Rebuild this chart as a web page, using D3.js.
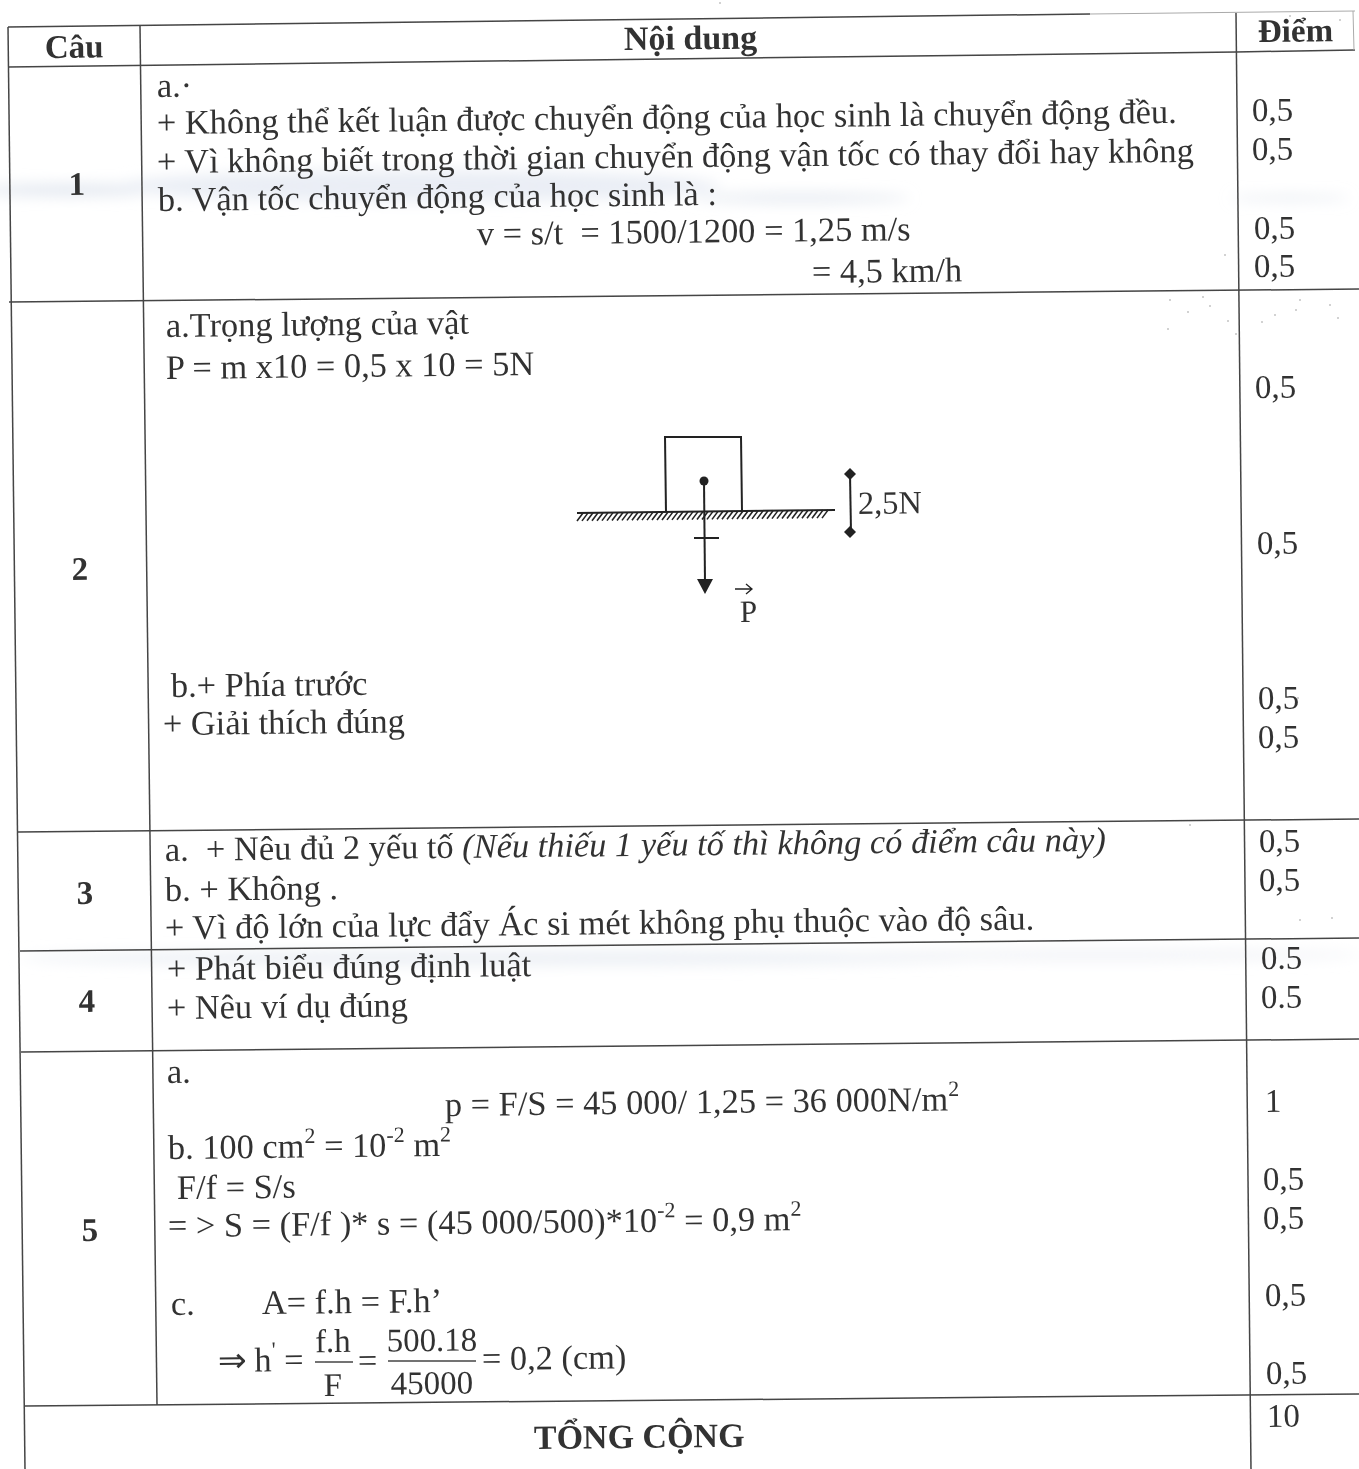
<!DOCTYPE html>
<html lang="vi">
<head>
  <meta charset="UTF-8" />
  <title>Đáp án</title>
  <style>
    html, body { margin: 0; padding: 0; background: #fff; }
    svg { display: block; }
    text { font-family: "Liberation Serif", serif; fill: #333; white-space: pre; }
  </style>
</head>
<body>
  <div id="sheet"></div>
  <script src="https://cdnjs.cloudflare.com/ajax/libs/d3/7.8.4/d3.min.js"></script>
  <script>
    const width = 1359, height = 1469, tilt = -0.62;

    // Text of the table. ^{..} is a superscript, _{..} is italic
    const headers = ["Câu", "Nội dung", "Điểm"];
    const questions = ["1", "2", "3", "4", "5"];
    const contentLines = [
      "a.·",
      "+ Không thể kết luận được chuyển động của học sinh là chuyển động đều.",
      "+ Vì không biết trong thời gian chuyển động vận tốc có thay đổi hay không",
      "b. Vận tốc chuyển động của học sinh là :",
      "v = s/t  = 1500/1200 = 1,25 m/s",
      "= 4,5 km/h",
      "a.Trọng lượng của vật",
      "P = m x10 = 0,5 x 10 = 5N",
      "b.+ Phía trước",
      "+ Giải thích đúng",
      "a.  + Nêu đủ 2 yếu tố _{(Nếu thiếu 1 yếu tố thì không có điểm câu này)}",
      "b. + Không .",
      "+ Vì độ lớn của lực đẩy Ác si mét không phụ thuộc vào độ sâu.",
      "+ Phát biểu đúng định luật",
      "+ Nêu ví dụ đúng",
      "a.",
      "p = F/S = 45 000/ 1,25 = 36 000N/m^{2}",
      "b. 100 cm^{2} = 10^{-2} m^{2}",
      "F/f = S/s",
      "= > S = (F/f )* s = (45 000/500)*10^{-2} = 0,9 m^{2}",
      "c.",
      "A= f.h = F.h’",
      "⇒ h^{'} =",
      "=",
      "= 0,2 (cm)"
    ];
    const scores = ["0,5", "0,5", "0,5", "0,5", "0,5", "0,5", "0,5", "0,5", "0,5", "0,5", "0.5", "0.5", "1", "0,5", "0,5", "0,5", "0,5", "10"];
    const fractionTops = ["f.h", "500.18"];
    const fractionBottoms = ["F", "45000"];
    const totalLabel = "TỔNG CỘNG";
    const forceLabel = "2,5N";
    const vectorLabel = "P";

    // Where things sit on the scanned page
    const headerPos = [[45, 58], [624, 50], [1258, 42]];
    const questionPos = [[77, 195], [80, 580], [85, 904], [87, 1012], [90, 1241]];
    const contentPos = [
      [157, 97], [157, 134], [157, 173], [158, 211], [477, 245], [812, 283],
      [166, 337], [166, 379], [171, 697], [163, 735],
      [165, 861], [165, 901], [165, 939],
      [167, 980], [167, 1019],
      [167, 1083], [445, 1116], [168, 1159], [177, 1199], [168, 1237],
      [171, 1315], [262, 1314], [218, 1372], [358, 1372], [482, 1370]
    ];
    const scorePos = [
      [1252, 121], [1252, 160], [1254, 239], [1254, 277],
      [1255, 398], [1257, 554], [1258, 709], [1258, 748],
      [1259, 852], [1259, 891], [1261, 969], [1261, 1008],
      [1265, 1112], [1263, 1190], [1263, 1229], [1265, 1306], [1266, 1384], [1267, 1427]
    ];
    const rules = [
      [8, 27, 1090, 14], [8, 67, 1236, 52], [1236, 52, 1355, 50], [9, 302, 1359, 289], [18, 832, 1359, 819],
      [20, 951, 1359, 938], [21, 1052, 1359, 1039], [25, 1406, 1359, 1394],
      [8, 27, 25, 1469], [140, 26, 157, 1405], [1236, 13, 1251, 1469]
    ];
    const faintRules = [[1090, 14, 1355, 11], [1353, 11, 1354, 50]];
    const fractionBars = [[315, 353, 1362], [388, 476, 1361]];
    const fractionX = [333, 432];
    const smudges = [
      [70, 190, 90, 6, "#e3e8f0"], [420, 186, 300, 16, "#eaeef5"], [800, 198, 110, 4, "#e2e7ef"],
      [1290, 198, 60, 2, "#dde3ec"], [500, 958, 480, 7, "#ebeff4"], [1100, 955, 260, 5, "#f0f2f6"]
    ];
    const specks = [
      [1170, 300], [1188, 312], [1203, 297], [1228, 321], [1236, 334], [1262, 322], [1275, 315],
      [1296, 310], [1330, 305], [1338, 318], [1300, 300], [1225, 255], [1290, 16], [1340, 20],
      [1298, 698], [1190, 825], [1300, 920], [1332, 918], [1210, 306], [1168, 329], [720, 3]
    ];

    const svg = d3.select("#sheet").append("svg").attr("width", width).attr("height", height);
    const defs = svg.append("defs");
    defs.append("filter").attr("id", "soft").append("feGaussianBlur").attr("stdDeviation", 0.4);
    defs.append("filter").attr("id", "smear").attr("x", "-30%").attr("y", "-200%").attr("width", "160%").attr("height", "500%")
      .append("feGaussianBlur").attr("stdDeviation", 7);

    // background marks of the scan
    svg.append("g").attr("filter", "url(#smear)")
      .selectAll("ellipse").data(smudges).join("ellipse")
      .attr("cx", d => d[0]).attr("cy", d => d[1]).attr("rx", d => d[2]).attr("ry", d => d[3])
      .attr("fill", d => d[4]);
    svg.append("g").selectAll("circle").data(specks).join("circle")
      .attr("cx", d => d[0]).attr("cy", d => d[1]).attr("r", 0.8).attr("fill", "#999");

    const page = svg.append("g").attr("filter", "url(#soft)");

    function drawRules(list, colour, w) {
      page.append("g").selectAll("line").data(list).join("line")
        .attr("x1", d => d[0]).attr("y1", d => d[1]).attr("x2", d => d[2]).attr("y2", d => d[3])
        .attr("stroke", colour).attr("stroke-width", w);
    }
    drawRules(rules, "#444", 1.5);
    drawRules(faintRules, "#aaa", 1);

    // writes a string with the ^{} and _{} marks as tspans
    function rich(sel, str, size) {
      let lift = 0;
      str.split(/(\^\{[^}]*\}|_\{[^}]*\})/).filter(s => s).forEach(part => {
        const t = sel.append("tspan");
        if (part[0] === "^") {
          t.text(part.slice(2, -1)).attr("font-size", size * 0.64).attr("dy", -size * 0.42);
          lift = size * 0.42;
        } else {
          if (part[0] === "_") t.attr("font-style", "italic");
          t.text(part[0] === "_" ? part.slice(2, -1) : part);
          if (lift) t.attr("dy", lift);
          lift = 0;
        }
      });
    }

    function writeAll(strings, positions, size, bold, anchor) {
      page.append("g").selectAll("text").data(strings).join("text")
        .attr("x", (d, i) => positions[i][0]).attr("y", (d, i) => positions[i][1])
        .attr("transform", (d, i) => `rotate(${tilt},${positions[i][0]},${positions[i][1]})`)
        .attr("font-size", size)
        .attr("font-weight", bold ? "bold" : null)
        .attr("text-anchor", anchor || "start")
        .each(function(d) { rich(d3.select(this), d, size); });
    }

    writeAll(headers.slice(0, 1), headerPos.slice(0, 1), 33, true);
    writeAll(headers.slice(1, 2), headerPos.slice(1, 2), 34, true);
    writeAll(headers.slice(2), headerPos.slice(2), 33, true);
    writeAll(questions, questionPos, 33, true, "middle");
    writeAll(contentLines, contentPos, 34.4);
    writeAll(scores, scorePos, 33);
    writeAll([totalLabel], [[534, 1449]], 34, true);

    // fraction in question 5
    writeAll(fractionTops, fractionX.map((x, i) => [x, i ? 1351 : 1352]), 33, false, "middle");
    writeAll(fractionBottoms, fractionX.map((x, i) => [x, i ? 1394 : 1396]), 33, false, "middle");
    page.append("g").selectAll("line").data(fractionBars).join("line")
      .attr("x1", d => d[0]).attr("x2", d => d[1]).attr("y1", d => d[2]).attr("y2", d => d[2])
      .attr("stroke", "#444").attr("stroke-width", 1.5);

    // force diagram in question 2
    const fig = page.append("g").attr("fill", "none").attr("stroke", "#222").attr("stroke-width", 2);
    fig.append("path").attr("d", "M666,512 L665,437 L741,437 L742,511");
    fig.append("line").attr("x1", 577).attr("y1", 513).attr("x2", 835).attr("y2", 510);
    fig.selectAll("line.hatch").data(d3.range(583, 833, 5)).join("line").attr("class", "hatch")
      .attr("x1", d => d).attr("x2", d => d - 6)
      .attr("y1", d => 513 - (d - 577) * 3 / 258).attr("y2", d => 521 - (d - 577) * 3 / 258)
      .attr("stroke-width", 1.5);
    fig.append("line").attr("x1", 704).attr("y1", 481).attr("x2", 705).attr("y2", 582);
    fig.append("line").attr("x1", 694).attr("y1", 538).attr("x2", 719).attr("y2", 538);
    fig.append("circle").attr("cx", 704).attr("cy", 481).attr("r", 4.5).attr("fill", "#222").attr("stroke", "none");
    fig.append("path").attr("d", "M697,579 L713,579 L705,594 Z").attr("fill", "#222").attr("stroke", "none");
    fig.append("line").attr("x1", 850).attr("y1", 474).attr("x2", 851).attr("y2", 532);
    fig.selectAll("path.tip").data([474, 532]).join("path").attr("class", "tip")
      .attr("d", d => `M${850},${d - 6} L${856},${d} L${850},${d + 6} L${844},${d} Z`)
      .attr("fill", "#222").attr("stroke", "none");
    fig.append("path").attr("d", "M735,589 L752,589 M746,584 L752,589 L746,594").attr("stroke-width", 1.3);
    writeAll([forceLabel], [[858, 514]], 32.5);
    writeAll([vectorLabel], [[740, 622]], 31);
  </script>
</body>
</html>
